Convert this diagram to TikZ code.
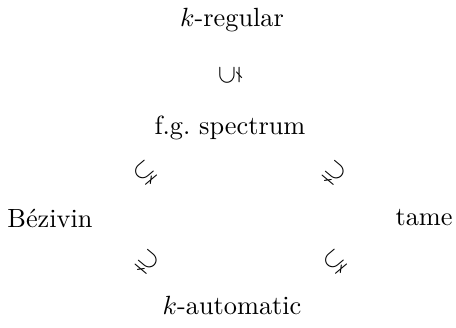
\documentclass[tikz,border=0pt]{standalone}
\usepackage{amsmath,amssymb}
\usepackage{tikz}
\usetikzlibrary{positioning}

\begin{document}
\begin{tikzpicture}[
  x=0.38pt, y=-0.38pt,
  cls/.style={inner sep=2pt},
  rel/.style={inner sep=0pt}
]
\useasboundingbox (0,0) rectangle (456,327);

% ---- classes ----
\node[cls] (kreg) at (232,20) {$k$-regular};
\node[cls] (fg) at (230,128) {f.g.\ spectrum};
\node[cls] (bez) at (50,218) {B\'ezivin};
\node[cls] (tame) at (424,218) {tame};
\node[cls] (kaut) at (232,305) {$k$-automatic};

% ---- inclusions ----
\node[rel, rotate=90] (fgkreg) at (230,75) {$\subsetneq$};
\node[rel, rotate=40] (bezfg) at (145,173) {$\subsetneq$};
\node[rel, rotate=-40] (fgtame) at (335,173) {$\supsetneq$};
\node[rel, rotate=-40] (bezkaut) at (148,262) {$\supsetneq$};
\node[rel, rotate=40] (kauttame) at (335,262) {$\subsetneq$};
\end{tikzpicture}
\end{document}
